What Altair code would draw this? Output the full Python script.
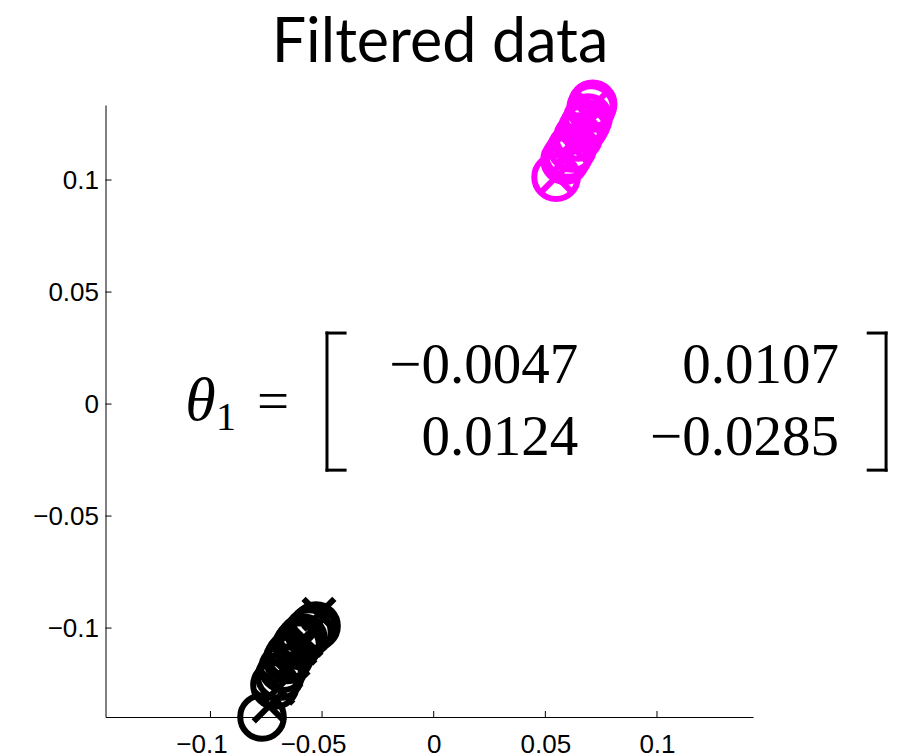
import altair as alt
import pandas as pd

# ---- data ----
title_text = "Filtered data"

x_ticks = [-0.1, -0.05, 0, 0.05, 0.1]
y_ticks = [-0.1, -0.05, 0, 0.05, 0.1]

mag_circle_x = [0.0548, 0.0588, 0.0602, 0.0620, 0.0647, 0.0669, 0.0681, 0.0691, 0.0705, 0.0712]
mag_circle_y = [0.1013, 0.1089, 0.1112, 0.1143, 0.1192, 0.1232, 0.1252, 0.1277, 0.1321, 0.1338]
mag_cross_x = [0.0550, 0.0590, 0.0622, 0.0650, 0.0672, 0.0694, 0.0708]
mag_cross_y = [0.1015, 0.1092, 0.1146, 0.1196, 0.1236, 0.1281, 0.1325]

blk_circle_x = [-0.0769, -0.0711, -0.0690, -0.0675, -0.0655, -0.0644, -0.0612, -0.0600, -0.0586, -0.0559, -0.0540, -0.0527]
blk_circle_y = [-0.1397, -0.1254, -0.1215, -0.1179, -0.1140, -0.1121, -0.1076, -0.1060, -0.1045, -0.1018, -0.1000, -0.0991]
blk_cross_x = [-0.0737, -0.0698, -0.0662, -0.0630, -0.0599, -0.0572, -0.0545, -0.0514]
blk_cross_y = [-0.1348, -0.1268, -0.1196, -0.1143, -0.1089, -0.1054, -0.1009, -0.0938]

matrix_row1 = ["\u22120.0047", "0.0107"]
matrix_row2 = ["0.0124", "\u22120.0285"]

# ---- tables ----
mag_o = pd.DataFrame({"x": mag_circle_x, "y": mag_circle_y})
mag_x = pd.DataFrame({"x": mag_cross_x, "y": mag_cross_y})
blk_o = pd.DataFrame({"x": blk_circle_x, "y": blk_circle_y})
blk_x = pd.DataFrame({"x": blk_cross_x, "y": blk_cross_y})

W, H = 647.5, 612
xscale = alt.Scale(domain=[-0.147, 0.143], nice=False, zero=False)
yscale = alt.Scale(domain=[-0.1397, 0.1335], nice=False, zero=False)

axis_common = dict(
    grid=False, ticks=False, domainColor="black", domainWidth=1,
    labelFont="Liberation Sans", labelFontSize=26, labelColor="black",
    format="~g", title=None,
)
xaxis = alt.Axis(
    values=x_ticks, labelPadding=14,
    labelOffset={"condition": {"test": "datum.value < 0", "value": -9}, "value": 0},
    **axis_common,
)
yaxis = alt.Axis(values=y_ticks, labelPadding=7, **axis_common)

def X(f="x"):
    return alt.X(f"{f}:Q", scale=xscale, axis=xaxis)

def Y(f="y"):
    return alt.Y(f"{f}:Q", scale=yscale, axis=yaxis)

CROSS = "M-1,-1L1,1M-1,1L1,-1"

def circles(df, color):
    return alt.Chart(df).mark_point(
        shape="circle", filled=False, size=1900, strokeWidth=6, color=color, opacity=1
    ).encode(x=X(), y=Y())

def crosses(df, color):
    return alt.Chart(df).mark_point(
        shape=CROSS, filled=False, size=950, strokeWidth=6, color=color, opacity=1
    ).encode(x=X(), y=Y())

# inward tick marks
xt = alt.Chart(pd.DataFrame({"v": x_ticks})).mark_rule(color="black", strokeWidth=1).encode(
    x=X("v"), y=alt.value(H), y2=alt.value(H - 6))
yt = alt.Chart(pd.DataFrame({"v": y_ticks})).mark_rule(color="black", strokeWidth=1).encode(
    y=Y("v"), x=alt.value(0), x2=alt.value(6))

# title as text above the plot
title = alt.Chart(pd.DataFrame({"t": [title_text]})).mark_text(
    font="Lato", fontSize=61, align="center", baseline="alphabetic", color="black"
).encode(x=alt.value(334.5), y=alt.value(-43), text="t:N")

# equation annotation
serif = "Liberation Serif"
eq_font = 57
mat = pd.DataFrame({
    "x": [0.0647, 0.1815, 0.0647, 0.1815],
    "y": [0.0094, 0.0094, -0.0228, -0.0228],
    "t": [matrix_row1[0], matrix_row1[1], matrix_row2[0], matrix_row2[1]],
})
mat_text = alt.Chart(mat).mark_text(
    font=serif, fontSize=eq_font, align="right", baseline="alphabetic", color="black"
).encode(x=X(), y=Y(), text="t:N")

theta = alt.Chart(pd.DataFrame({"x": [-0.1113], "y": [-0.0071], "t": ["\u03b8"]})).mark_text(
    font=serif, fontSize=62, fontStyle="italic", align="left", baseline="alphabetic", color="black"
).encode(x=X(), y=Y(), text="t:N")
sub1 = alt.Chart(pd.DataFrame({"x": [-0.0975], "y": [-0.0116], "t": ["1"]})).mark_text(
    font=serif, fontSize=40, align="left", baseline="alphabetic", color="black"
).encode(x=X(), y=Y(), text="t:N")
eq = alt.Chart(pd.DataFrame({"x": [-0.0792], "y": [-0.0071], "t": ["="]})).mark_text(
    font=serif, fontSize=eq_font, align="left", baseline="alphabetic", color="black"
).encode(x=X(), y=Y(), text="t:N")

# brackets
br = pd.DataFrame({
    "x":  [-0.0478, -0.0478, -0.0478, 0.2026, 0.1946, 0.1946],
    "x2": [-0.0478, -0.0397, -0.0397, 0.2026, 0.2026, 0.2026],
    "y":  [0.0317, 0.0317, -0.0295, 0.0317, 0.0317, -0.0295],
    "y2": [-0.0295, 0.0317, -0.0295, -0.0295, 0.0317, -0.0295],
})
brackets = alt.Chart(br).mark_rule(color="black", strokeWidth=3, strokeCap="square").encode(
    x=X(), x2="x2:Q", y=Y(), y2="y2:Q")

chart = alt.layer(
    xt, yt,
    circles(mag_o, "#ff00ff"), crosses(mag_x, "#ff00ff"),
    circles(blk_o, "black"), crosses(blk_x, "black"),
    theta, sub1, eq, mat_text, brackets, title,
).properties(
    width=W, height=H,
    autosize=alt.AutoSizeParams(type="none"),
    padding={"left": 97.5, "top": 97, "right": 150, "bottom": 36},
).configure_view(stroke=None)

chart.save("out.html", embed_options={"renderer": "svg", "actions": False})
